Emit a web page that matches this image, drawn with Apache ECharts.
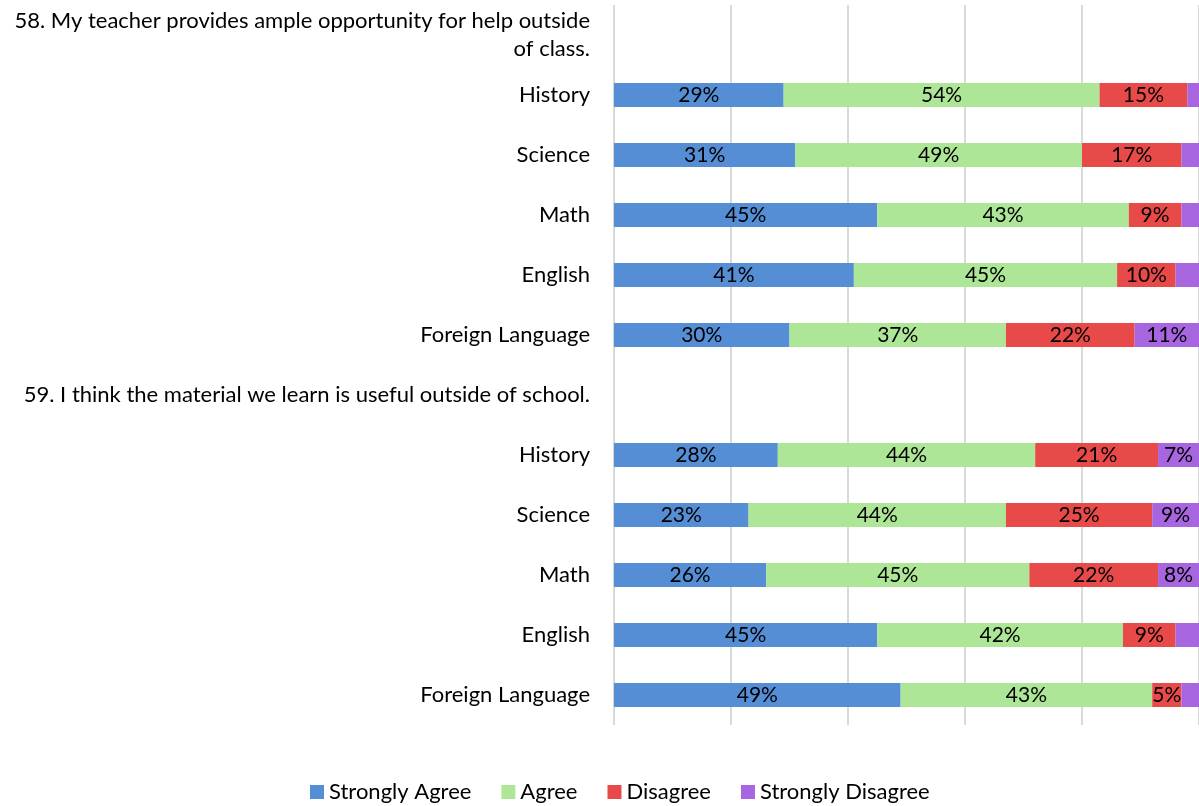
<!DOCTYPE html>
<html>
<head>
<meta charset="utf-8">
<script src="https://cdn.jsdelivr.net/npm/echarts@6/dist/echarts.min.js"></script>
<style>
  html, body { margin: 0; padding: 0; background: #fff; }
  #chart { width: 1199px; height: 806px; }
</style>
</head>
<body>
<div id="chart"></div>
<script>
// Row labels: question headers occupy their own rows with no bars
const categories = [
  '58. My teacher provides ample opportunity for help outside\nof class.',
  'History', 'Science', 'Math', 'English', 'Foreign Language',
  '59. I think the material we learn is useful outside of school.',
  'History', 'Science', 'Math', 'English', 'Foreign Language'
];

// Percent of responses per row (null = header row)
const stronglyAgree    = [null, 29, 31, 45, 41, 30, null, 28, 23, 26, 45, 49];
const agree            = [null, 54, 49, 43, 45, 37, null, 44, 44, 45, 42, 43];
const disagree         = [null, 15, 17,  9, 10, 22, null, 21, 25, 22,  9,  5];
const stronglyDisagree = [null,  2,  3,  3,  4, 11, null,  7,  9,  8,  4,  3];

const seriesNames  = ['Strongly Agree', 'Agree', 'Disagree', 'Strongly Disagree'];
const seriesColors = ['#558ED5', '#AEE698', '#E84A4A', '#A865E0'];
const seriesData   = [stronglyAgree, agree, disagree, stronglyDisagree];

// Subject names repeat under both questions, so each row gets a unique key
const rowKeys = categories.map((c, i) => i + '|' + c);

const FONT = 'Lato, "Open Sans", sans-serif';

const chart = echarts.init(document.getElementById('chart'), null, { renderer: 'canvas' });

chart.setOption({
  animation: false,
  textStyle: { fontFamily: FONT },
  grid: { left: 614, right: -1, top: 5, bottom: 81, containLabel: false },
  legend: {
    data: seriesNames,
    left: 305,
    top: 776,
    icon: 'rect',
    itemWidth: 14,
    itemHeight: 14,
    itemGap: 30,
    textStyle: { fontSize: 22, color: '#000', fontFamily: FONT }
  },
  xAxis: {
    type: 'value',
    min: 0,
    max: 100,
    interval: 20,
    axisLabel: { show: false },
    axisLine: { show: false },
    axisTick: { show: false },
    splitLine: { show: true, lineStyle: { color: '#D9D9D9', width: 2 } }
  },
  yAxis: {
    type: 'category',
    data: rowKeys,
    inverse: true,
    axisLine: { show: false },
    axisTick: { show: false },
    axisLabel: {
      margin: 24,
      fontSize: 22,
      color: '#000',
      lineHeight: 28,
      align: 'right',
      fontFamily: FONT,
      formatter: v => v.slice(v.indexOf('|') + 1)
    }
  },
  series: seriesNames.map((name, i) => ({
    name: name,
    type: 'bar',
    stack: 'total',
    barWidth: 24,
    data: seriesData[i],
    itemStyle: { color: seriesColors[i] },
    label: {
      show: true,
      position: 'inside',
      fontSize: 21,
      color: '#000',
      fontFamily: FONT,
      formatter: p => (p.value != null && p.value >= 5) ? p.value + '%' : ''
    }
  }))
});
</script>
</body>
</html>
